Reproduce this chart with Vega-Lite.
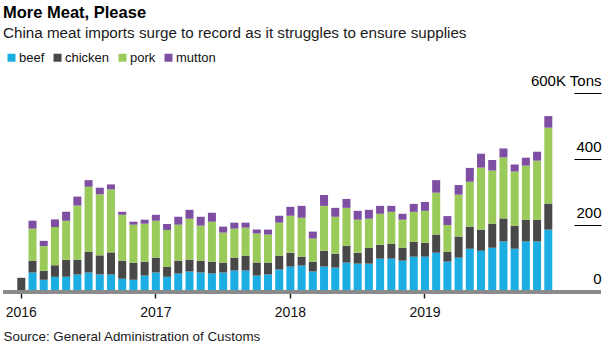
{
  "$schema": "https://vega.github.io/schema/vega-lite/v6.json",
  "width": 598,
  "height": 198,
  "autosize": {"type": "none"},
  "padding": {"left": 3, "top": 93, "right": 9, "bottom": 58},
  "background": "white",
  "config": {"view": {"stroke": null}, "font": "Liberation Sans"},
  "title": {
    "text": "More Meat, Please",
    "subtitle": "China meat imports surge to record as it struggles to ensure supplies",
    "anchor": "start",
    "frame": "group",
    "orient": "top",
    "offset": 10,
    "font": "Liberation Sans",
    "fontSize": 16.5,
    "fontWeight": "bold",
    "color": "#000000",
    "subtitleFont": "Liberation Sans",
    "subtitleFontSize": 15.2,
    "subtitleColor": "#1a1a1a",
    "subtitlePadding": 4
  },
  "data": {
    "values": [
      {"month": "2016-01", "beef": 0, "chicken": 40, "pork": 0, "mutton": 0},
      {"month": "2016-02", "beef": 56, "chicken": 36, "pork": 97, "mutton": 24},
      {"month": "2016-03", "beef": 34, "chicken": 27, "pork": 75, "mutton": 16},
      {"month": "2016-04", "beef": 43, "chicken": 35, "pork": 116, "mutton": 23},
      {"month": "2016-05", "beef": 43, "chicken": 52, "pork": 118, "mutton": 27},
      {"month": "2016-06", "beef": 50, "chicken": 45, "pork": 164, "mutton": 27},
      {"month": "2016-07", "beef": 56, "chicken": 63, "pork": 197, "mutton": 20},
      {"month": "2016-08", "beef": 50, "chicken": 58, "pork": 185, "mutton": 20},
      {"month": "2016-09", "beef": 50, "chicken": 67, "pork": 191, "mutton": 15},
      {"month": "2016-10", "beef": 37, "chicken": 55, "pork": 139, "mutton": 9},
      {"month": "2016-11", "beef": 34, "chicken": 52, "pork": 115, "mutton": 9},
      {"month": "2016-12", "beef": 47, "chicken": 42, "pork": 115, "mutton": 12},
      {"month": "2017-01", "beef": 56, "chicken": 45, "pork": 112, "mutton": 18},
      {"month": "2017-02", "beef": 43, "chicken": 30, "pork": 112, "mutton": 18},
      {"month": "2017-03", "beef": 53, "chicken": 39, "pork": 109, "mutton": 24},
      {"month": "2017-04", "beef": 59, "chicken": 36, "pork": 124, "mutton": 27},
      {"month": "2017-05", "beef": 56, "chicken": 36, "pork": 106, "mutton": 27},
      {"month": "2017-06", "beef": 53, "chicken": 36, "pork": 121, "mutton": 27},
      {"month": "2017-07", "beef": 56, "chicken": 30, "pork": 91, "mutton": 18},
      {"month": "2017-08", "beef": 62, "chicken": 39, "pork": 88, "mutton": 18},
      {"month": "2017-09", "beef": 62, "chicken": 45, "pork": 85, "mutton": 15},
      {"month": "2017-10", "beef": 47, "chicken": 39, "pork": 88, "mutton": 12},
      {"month": "2017-11", "beef": 50, "chicken": 36, "pork": 85, "mutton": 15},
      {"month": "2017-12", "beef": 65, "chicken": 42, "pork": 100, "mutton": 21},
      {"month": "2018-01", "beef": 74, "chicken": 42, "pork": 112, "mutton": 27},
      {"month": "2018-02", "beef": 77, "chicken": 27, "pork": 118, "mutton": 36},
      {"month": "2018-03", "beef": 59, "chicken": 30, "pork": 70, "mutton": 21},
      {"month": "2018-04", "beef": 74, "chicken": 48, "pork": 136, "mutton": 33},
      {"month": "2018-05", "beef": 71, "chicken": 42, "pork": 112, "mutton": 27},
      {"month": "2018-06", "beef": 86, "chicken": 51, "pork": 115, "mutton": 27},
      {"month": "2018-07", "beef": 83, "chicken": 33, "pork": 100, "mutton": 27},
      {"month": "2018-08", "beef": 83, "chicken": 48, "pork": 88, "mutton": 27},
      {"month": "2018-09", "beef": 98, "chicken": 42, "pork": 94, "mutton": 24},
      {"month": "2018-10", "beef": 98, "chicken": 45, "pork": 97, "mutton": 18},
      {"month": "2018-11", "beef": 92, "chicken": 39, "pork": 85, "mutton": 18},
      {"month": "2018-12", "beef": 104, "chicken": 45, "pork": 91, "mutton": 24},
      {"month": "2019-01", "beef": 104, "chicken": 42, "pork": 97, "mutton": 27},
      {"month": "2019-02", "beef": 116, "chicken": 55, "pork": 127, "mutton": 38},
      {"month": "2019-03", "beef": 89, "chicken": 30, "pork": 81, "mutton": 27},
      {"month": "2019-04", "beef": 101, "chicken": 64, "pork": 127, "mutton": 29},
      {"month": "2019-05", "beef": 128, "chicken": 67, "pork": 136, "mutton": 42},
      {"month": "2019-06", "beef": 122, "chicken": 64, "pork": 188, "mutton": 42},
      {"month": "2019-07", "beef": 131, "chicken": 73, "pork": 161, "mutton": 32},
      {"month": "2019-08", "beef": 150, "chicken": 70, "pork": 185, "mutton": 27},
      {"month": "2019-09", "beef": 128, "chicken": 70, "pork": 164, "mutton": 21},
      {"month": "2019-10", "beef": 150, "chicken": 66, "pork": 164, "mutton": 24},
      {"month": "2019-11", "beef": 150, "chicken": 66, "pork": 179, "mutton": 27},
      {"month": "2019-12", "beef": 186, "chicken": 79, "pork": 230, "mutton": 35}
    ]
  },
  "layer": [
    {
      "transform": [
        {"fold": ["beef", "chicken", "pork", "mutton"], "as": ["meat", "kt"]},
        {"calculate": "indexof(['beef', 'chicken', 'pork', 'mutton'], datum.meat)", "as": "stackRank"}
      ],
      "mark": {"type": "bar"},
      "encoding": {
        "x": {
          "field": "month",
          "type": "ordinal",
          "scale": {"range": [14.3, 549.3], "paddingInner": 0.286, "paddingOuter": 0, "round": false},
          "axis": {
            "values": ["2016-01", "2017-01", "2018-01", "2019-01"],
            "labelExpr": "slice(datum.value, 0, 4)",
            "labelAngle": 0,
            "labelFont": "Liberation Sans",
            "labelFontSize": 14,
            "labelColor": "#111111",
            "labelPadding": 7,
            "offset": 1,
            "grid": false,
            "domain": false,
            "tickColor": "#222222",
            "tickWidth": 1.5,
            "tickSize": 6,
            "title": "Source: General Administration of Customs",
            "titleFont": "Liberation Sans",
            "titleFontSize": 13.4,
            "titleFontWeight": "normal",
            "titleColor": "#1a1a1a",
            "titleAnchor": "start",
            "titleAlign": "left",
            "titleBaseline": "alphabetic",
            "titleX": 0,
            "titleY": 48
          }
        },
        "y": {
          "field": "kt",
          "type": "quantitative",
          "stack": "zero",
          "scale": {"domain": [0, 600], "nice": false, "zero": true},
          "axis": {
            "orient": "right",
            "offset": -27,
            "values": [0, 200, 400, 600],
            "domain": false,
            "grid": false,
            "tickSize": 27,
            "tickWidth": 1,
            "tickColor": {"condition": {"test": "datum.value === 0", "value": "transparent"}, "value": "#000000"},
            "labelAlign": "right",
            "labelBaseline": "alphabetic",
            "labelPadding": 0,
            "labelOffset": -8,
            "labelFont": "Liberation Sans",
            "labelFontSize": 15,
            "labelColor": "#000000",
            "labelOverlap": false,
            "labelBound": false,
            "labelExpr": "datum.value === 600 ? '600K Tons' : datum.label",
            "title": null
          }
        },
        "order": {"field": "stackRank", "type": "quantitative", "sort": "ascending"},
        "color": {
          "field": "meat",
          "type": "nominal",
          "sort": ["beef", "chicken", "pork", "mutton"],
          "scale": {
            "domain": ["beef", "chicken", "pork", "mutton"],
            "range": ["#1caee3", "#484848", "#9aca5a", "#7e4ea2"]
          },
          "legend": {
            "orient": "none",
            "legendX": 2,
            "legendY": -42,
            "direction": "horizontal",
            "title": null,
            "symbolType": "square",
            "symbolSize": 64,
            "symbolStrokeWidth": 0,
            "labelFont": "Liberation Sans",
            "labelFontSize": 13,
            "labelColor": "#111111",
            "labelOffset": 1,
            "columnPadding": 6,
            "padding": 0
          }
        }
      }
    },
    {
      "mark": {"type": "rule", "color": "#8a8a8a", "strokeWidth": 2.5, "yOffset": 1},
      "encoding": {"y": {"datum": 0, "type": "quantitative"}}
    }
  ]
}
